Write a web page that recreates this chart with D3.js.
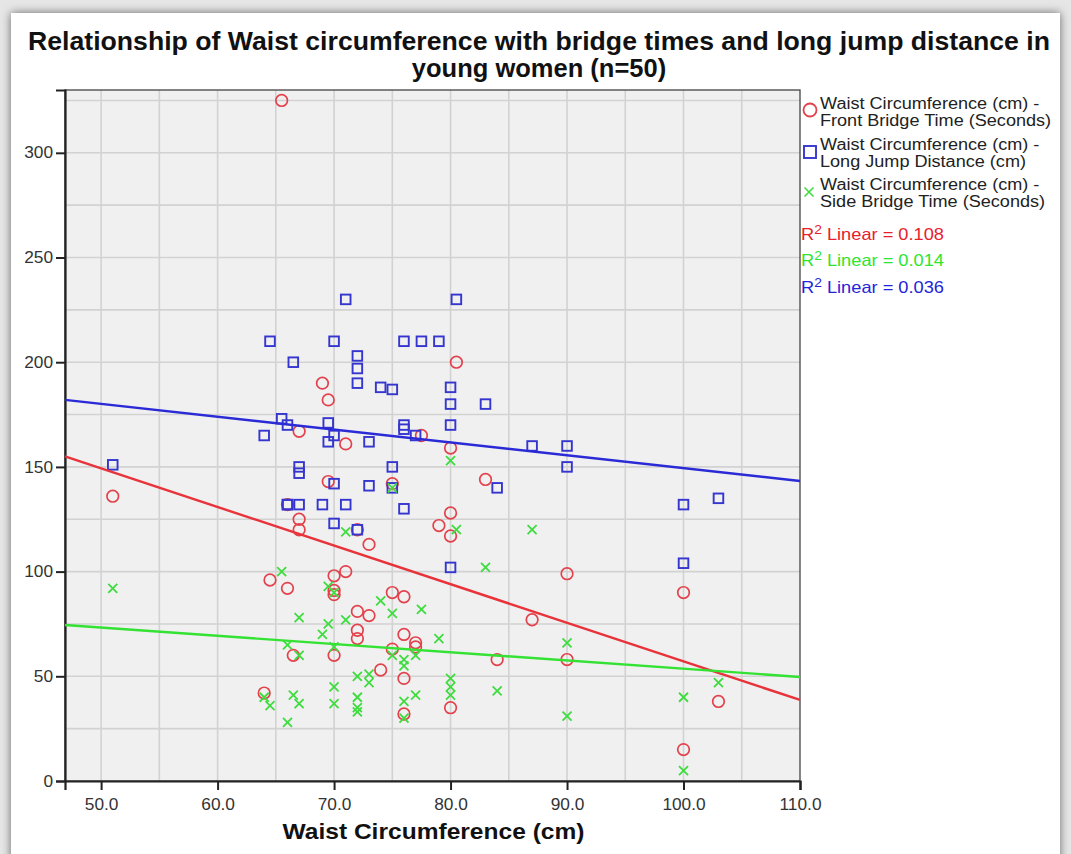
<!DOCTYPE html>
<html><head><meta charset="utf-8">
<script src="https://cdn.jsdelivr.net/npm/d3@7"></script>
<style>
html,body{margin:0;padding:0;background:#fff;}
svg{display:block;font-family:"Liberation Sans",Arial,sans-serif;}
</style></head>
<body>
<svg id="chart" width="1071" height="854"></svg>
<script>
// ---- data ----
const titleLines = ["Relationship of Waist circumference with bridge times and long jump distance in", "young women (n=50)"];
const xTicks = [50, 60, 70, 80, 90, 100, 110];
const yTicks = [0, 50, 100, 150, 200, 250, 300];
const xDomain = [46.9, 110];
const yDomain = [0, 330];

// Waist (cm) vs Front Bridge Time (s)
const frontBridge = [[51,136],[64,42],[64.5,96],[65.5,325],[66,92],[66,132],[66.5,60],[67,167],[67,125],[67,120],
 [69,190],[69.5,182],[69.5,143],[70,98],[70,91],[70,89],[70,60],[71,161],[71,100],[72,120],
 [72,81],[72,72],[72,68],[73,113],[73,79],[74,53],[75,142],[75,90],[75,63],[76,88],
 [76,70],[76,49],[76,32],[77,66],[77,64],[77.5,165],[79,122],[80,159],[80,128],[80,117],
 [80,35],[80.5,200],[83,144],[84,58],[87,77],[90,99],[90,58],[100,90],[100,15],[103,38]];
// Waist (cm) vs Long Jump Distance (cm)
const longJump = [[51,151],[64,165],[64.5,210],[65.5,173],[66,170],[66,132],[66.5,200],[67,150],[67,147],[67,132],
 [69,132],[69.5,171],[69.5,162],[70,210],[70,165],[70,142],[70,123],[71,230],[71,132],[72,203],
 [72,197],[72,190],[72,120],[73,162],[73,141],[74,188],[75,187],[75,150],[75,140],[76,210],
 [76,170],[76,168],[76,130],[77,165],[77.5,210],[79,210],[80,188],[80,180],[80,170],[80,102],
 [80.5,230],[83,180],[84,140],[87,160],[90,160],[90,150],[100,132],[100,104],[103,135],[66,132]];
// Waist (cm) vs Side Bridge Time (s)
const sideBridge = [[51,92],[64,40],[64.5,36],[65.5,100],[66,65],[66,28],[66.5,41],[67,78],[67,60],[67,37],
 [69,70],[69.5,93],[69.5,75],[70,90],[70,64],[70,45],[70,37],[71,119],[71,77],[72,50],
 [72,40],[72,35],[72,33],[73,51],[73,47],[74,86],[75,140],[75,80],[75,60],[76,58],
 [76,55],[76,38],[76,30],[77,60],[77,41],[77.5,82],[79,68],[80,153],[80,49],[80,45],
 [80,41],[80.5,120],[83,102],[84,43],[87,120],[90,66],[90,31],[100,40],[100,5],[103,47]];

// linear fit lines: y at the left and right edges of the x domain
const fitFront = [155, 38.7];
const fitJump = [182, 143.3];
const fitSide = [74.5, 49.7];

const legendNames = [["Waist Circumference (cm) -", "Front Bridge Time (Seconds)"],
                     ["Waist Circumference (cm) -", "Long Jump Distance (cm)"],
                     ["Waist Circumference (cm) -", "Side Bridge Time (Seconds)"]];
const r2Values = ["0.108", "0.014", "0.036"];

// ---- drawing ----
const svg = d3.select("#chart");
const W = 1071, H = 854;
const M = {left: 65, right: 800, top: 90, bottom: 781};
const RED = "#e3414b", BLUE = "#3535cf", GREEN = "#3fdc3f";
const RED_L = "#e8333a", BLUE_L = "#2a2ad6", GREEN_L = "#33e233";

// stretch text horizontally (the reference glyphs are wider than the font)
function stretch(sel, k) {
  sel.each(function() {
    const len = this.getComputedTextLength();
    d3.select(this).attr("textLength", len * k).attr("lengthAdjust", "spacingAndGlyphs");
  });
}

const defs = svg.append("defs");
const f = defs.append("filter").attr("id","shadow").attr("x","-5%").attr("y","-5%").attr("width","110%").attr("height","110%");
f.append("feDropShadow").attr("dx",0).attr("dy",0).attr("stdDeviation",5).attr("flood-color","#000").attr("flood-opacity",0.55);

svg.append("rect").attr("width",W).attr("height",H).attr("fill","#e6e6e6");
svg.append("rect").attr("x",11).attr("y",13).attr("width",1049).attr("height",860)
  .attr("fill","#fff").attr("filter","url(#shadow)");

const x = d3.scaleLinear().domain(xDomain).range([M.left, M.right]);
const y = d3.scaleLinear().domain(yDomain).range([M.bottom, M.top]);

// title
const tt = svg.append("g").selectAll("text").data(titleLines).join("text")
  .attr("x", 539).attr("y", (d,i) => 50 + i*27)
  .attr("text-anchor","middle").attr("font-weight","bold").attr("font-size",25)
  .attr("fill","#111").text(d => d);
stretch(tt, 1.02);
tt.filter((d,i)=>i===0).attr("textLength", 1022);

// plot background
svg.append("rect").attr("x",M.left).attr("y",M.top).attr("width",M.right-M.left).attr("height",M.bottom-M.top)
  .attr("fill","#f0f0f0");

// grid
const gx = d3.range(50, 110, 5), gy = d3.range(25, 330, 25);
svg.append("g").selectAll("line").data(gx).join("line")
  .attr("x1", d=>x(d)).attr("x2", d=>x(d)).attr("y1", M.top).attr("y2", M.bottom)
  .attr("stroke","#d2d2d2").attr("stroke-width",1.6);
svg.append("g").selectAll("line").data(gy).join("line")
  .attr("y1", d=>y(d)).attr("y2", d=>y(d)).attr("x1", M.left).attr("x2", M.right)
  .attr("stroke","#d2d2d2").attr("stroke-width",1.6);

// frame
svg.append("rect").attr("x",M.left).attr("y",M.top).attr("width",M.right-M.left).attr("height",M.bottom-M.top)
  .attr("fill","none").attr("stroke","#444").attr("stroke-width",1.3);

// axes
const xAxis = d3.axisBottom(x).tickValues(xTicks).tickFormat(d3.format(".1f")).tickSize(9).tickPadding(9);
const yAxis = d3.axisLeft(y).tickValues(yTicks).tickFormat(d3.format("d")).tickSize(9).tickPadding(3);
const gxA = svg.append("g").attr("transform",`translate(0,${M.bottom})`).call(xAxis);
const gyA = svg.append("g").attr("transform",`translate(${M.left},0)`).call(yAxis);
[gxA, gyA].forEach(g => {
  g.select(".domain").attr("stroke","#222").attr("stroke-width",2.2);
  g.selectAll(".tick line").attr("stroke","#222").attr("stroke-width",2);
  g.selectAll(".tick text").attr("font-size",16).attr("fill","#333")
    .attr("font-family","'Liberation Sans',Arial,sans-serif");
});
stretch(gxA.selectAll(".tick text"), 1.08);
stretch(gyA.selectAll(".tick text"), 1.08);

const xt = svg.append("text").attr("x",(M.left+M.right)/2 + 1).attr("y",839).attr("text-anchor","middle")
  .attr("font-weight","bold").attr("font-size",22.5).attr("fill","#111").text("Waist Circumference (cm)");
xt.attr("textLength", 302).attr("lengthAdjust","spacingAndGlyphs");

// points
const pts = svg.append("g");
pts.selectAll("circle").data(frontBridge).join("circle")
  .attr("cx", d=>x(d[0])).attr("cy", d=>y(d[1])).attr("r",5.8)
  .attr("fill","none").attr("stroke",RED).attr("stroke-width",1.7);
pts.selectAll("rect.sq").data(longJump).join("rect").attr("class","sq")
  .attr("x", d=>x(d[0])-4.8).attr("y", d=>y(d[1])-4.8).attr("width",9.6).attr("height",9.6)
  .attr("fill","none").attr("stroke",BLUE).attr("stroke-width",1.9);
const crossPath = "M-4.5,-4.5L4.5,4.5M-4.5,4.5L4.5,-4.5";
pts.selectAll("path.cx").data(sideBridge).join("path").attr("class","cx")
  .attr("transform", d=>`translate(${x(d[0])},${y(d[1])})`).attr("d",crossPath)
  .attr("fill","none").attr("stroke",GREEN).attr("stroke-width",1.8);

// fit lines
const fits = [[fitFront, RED_L],[fitSide, GREEN_L],[fitJump, BLUE_L]];
svg.append("g").selectAll("line").data(fits).join("line")
  .attr("x1", x(xDomain[0])).attr("x2", x(xDomain[1]))
  .attr("y1", d=>y(d[0][0])).attr("y2", d=>y(d[0][1]))
  .attr("stroke", d=>d[1]).attr("stroke-width",2.4);

// legend
const lg = svg.append("g");
const entryY = [109, 150, 190];
legendNames.forEach((lines, i) => {
  lines.forEach((l, j) => {
    const t = lg.append("text").attr("x",820).attr("y",entryY[i] + j*16.5)
      .attr("font-size",16).attr("fill","#222").text(l);
    stretch(t, 1.13);
  });
});
lg.append("circle").attr("cx",810).attr("cy",110).attr("r",6.5).attr("fill","none").attr("stroke",RED).attr("stroke-width",1.8);
lg.append("rect").attr("x",804).attr("y",146).attr("width",12).attr("height",12).attr("fill","none").attr("stroke",BLUE).attr("stroke-width",1.9);
lg.append("path").attr("transform","translate(809,192)").attr("d",crossPath).attr("fill","none").attr("stroke",GREEN).attr("stroke-width",1.6);

const r2Colors = ["#e8202c", "#2ee52e", "#2424d8"];
const r2Y = [240, 266, 293];
r2Values.forEach((v, i) => {
  const t = lg.append("text").attr("x",801).attr("y",r2Y[i]).attr("font-size",16.5).attr("fill",r2Colors[i]);
  t.append("tspan").text("R");
  t.append("tspan").attr("dy",-6).attr("font-size",12.5).text("2");
  t.append("tspan").attr("dy",6).text(" Linear = " + v);
  t.attr("textLength", 143).attr("lengthAdjust","spacingAndGlyphs");
});
</script>
</body></html>
